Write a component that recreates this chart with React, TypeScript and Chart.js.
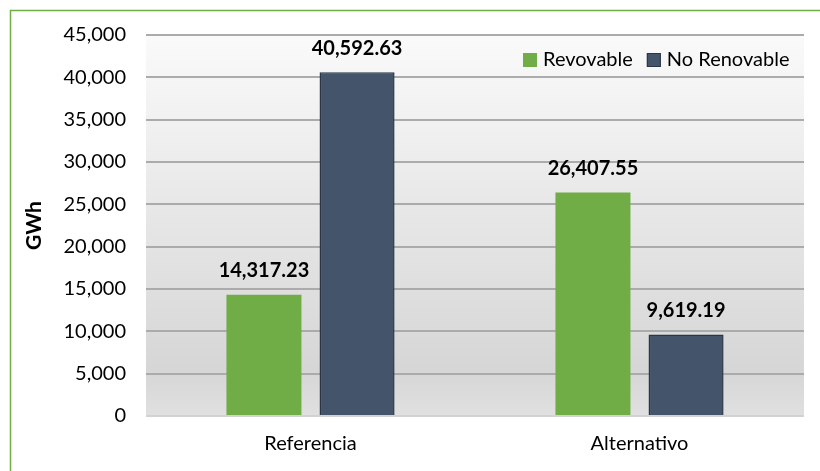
import React, { useEffect, useRef } from "react";
import { Chart, registerables } from "chart.js";

Chart.register(...registerables);

const categories = ["Referencia", "Alternativo"];
const seriesNames = ["Revovable", "No Renovable"];
const renovable = [14317.23, 26407.55];
const noRenovable = [40592.63, 9619.19];
const seriesColors = ["#70AD47", "#44546A"];
const yTicks = { min: 0, max: 45000, step: 5000 };
const yTitle = "GWh";

const FONT = "Lato, 'Open Sans', sans-serif";

const fmt = (v: number, d: number) =>
  v.toLocaleString("en-US", { minimumFractionDigits: d, maximumFractionDigits: d });

const extras = {
  id: "extras",
  beforeDraw(chart: any) {
    const { ctx, chartArea } = chart;
    const { left, right, top, bottom } = chartArea;
    ctx.save();
    ctx.fillStyle = "#ffffff";
    ctx.fillRect(0, 0, chart.width, chart.height);
    const g = ctx.createLinearGradient(0, top, 0, bottom);
    g.addColorStop(0, "#fafafa");
    g.addColorStop(0.88, "#d6d6d6");
    g.addColorStop(1, "#e0e0e0");
    ctx.fillStyle = g;
    ctx.fillRect(left, top, right - left, bottom - top);
    ctx.strokeStyle = "#70AD47";
    ctx.lineWidth = 1.5;
    ctx.beginPath();
    ctx.moveTo(10.5, chart.height);
    ctx.lineTo(10.5, 10.5);
    ctx.lineTo(chart.width, 10.5);
    ctx.stroke();
    ctx.restore();
  },
  afterDatasetsDraw(chart: any) {
    const { ctx } = chart;
    ctx.save();
    ctx.font = `bold 20px ${FONT}`;
    ctx.fillStyle = "#000";
    ctx.textAlign = "center";
    ctx.textBaseline = "middle";
    chart.data.datasets.forEach((ds: any, i: number) => {
      const meta = chart.getDatasetMeta(i);
      meta.data.forEach((bar: any, j: number) => {
        ctx.fillText(fmt(ds.data[j], 2), bar.x, bar.y - 24);
      });
    });
    // legend
    ctx.font = `20px ${FONT}`;
    ctx.textAlign = "left";
    ctx.textBaseline = "middle";
    const ly = 60;
    let x = 523;
    chart.data.datasets.forEach((ds: any, i: number) => {
      ctx.fillStyle = ds.backgroundColor;
      ctx.fillRect(x, ly - 7, 14, 14);
      if (i === 1) {
        ctx.strokeStyle = "#2a3545";
        ctx.lineWidth = 1;
        ctx.strokeRect(x + 0.5, ly - 6.5, 13, 13);
      }
      ctx.fillStyle = "#000";
      ctx.fillText(ds.label, x + 20, ly);
      x += 20 + ctx.measureText(ds.label).width + 14;
    });
    ctx.restore();
  },
};

export default function App() {
  const ref = useRef<HTMLCanvasElement>(null);
  useEffect(() => {
    if (!ref.current) return;
    const chart = new Chart(ref.current, {
      type: "bar",
      data: {
        labels: categories,
        datasets: [
          {
            label: seriesNames[0],
            data: renovable,
            backgroundColor: seriesColors[0],
            borderWidth: 0,
            categoryPercentage: 0.566,
            barPercentage: 0.806,
          },
          {
            label: seriesNames[1],
            data: noRenovable,
            backgroundColor: seriesColors[1],
            borderColor: "#2a3545",
            borderWidth: 1.5,
            categoryPercentage: 0.566,
            barPercentage: 0.806,
          },
        ],
      },
      options: {
        responsive: false,
        animation: false,
        layout: { padding: { left: 0, top: 35, right: 16, bottom: 0 } },
        plugins: { legend: { display: false }, tooltip: { enabled: false } },
        scales: {
          x: {
            grid: { display: false, drawTicks: false },
            border: { display: false },
            ticks: { color: "#000", font: { family: FONT, size: 20 }, padding: 16 },
            afterFit: (s: any) => {
              s.height = 55;
            },
          },
          y: {
            min: yTicks.min,
            max: yTicks.max,
            ticks: {
              stepSize: yTicks.step,
              color: "#000",
              font: { family: FONT, size: 20 },
              padding: 20,
              callback: (v: any) => fmt(Number(v), 0),
            },
            grid: {
              drawTicks: false,
              lineWidth: 2,
              color: (c: any) => (c.tick && c.tick.value === 0 ? "#d2d2d2" : "#ababab"),
            },
            border: { display: false },
            title: {
              display: true,
              text: yTitle,
              color: "#000",
              font: { family: FONT, size: 21, weight: "bold" },
              padding: { top: 22, bottom: 0 },
            },
            afterFit: (s: any) => {
              s.width = 146;
            },
          },
        },
      },
      plugins: [extras],
    });
    return () => chart.destroy();
  }, []);
  return (
    <div style={{ position: "absolute", left: 0, top: 0, width: 820, height: 471 }}>
      <canvas ref={ref} width={820} height={471} />
    </div>
  );
}
